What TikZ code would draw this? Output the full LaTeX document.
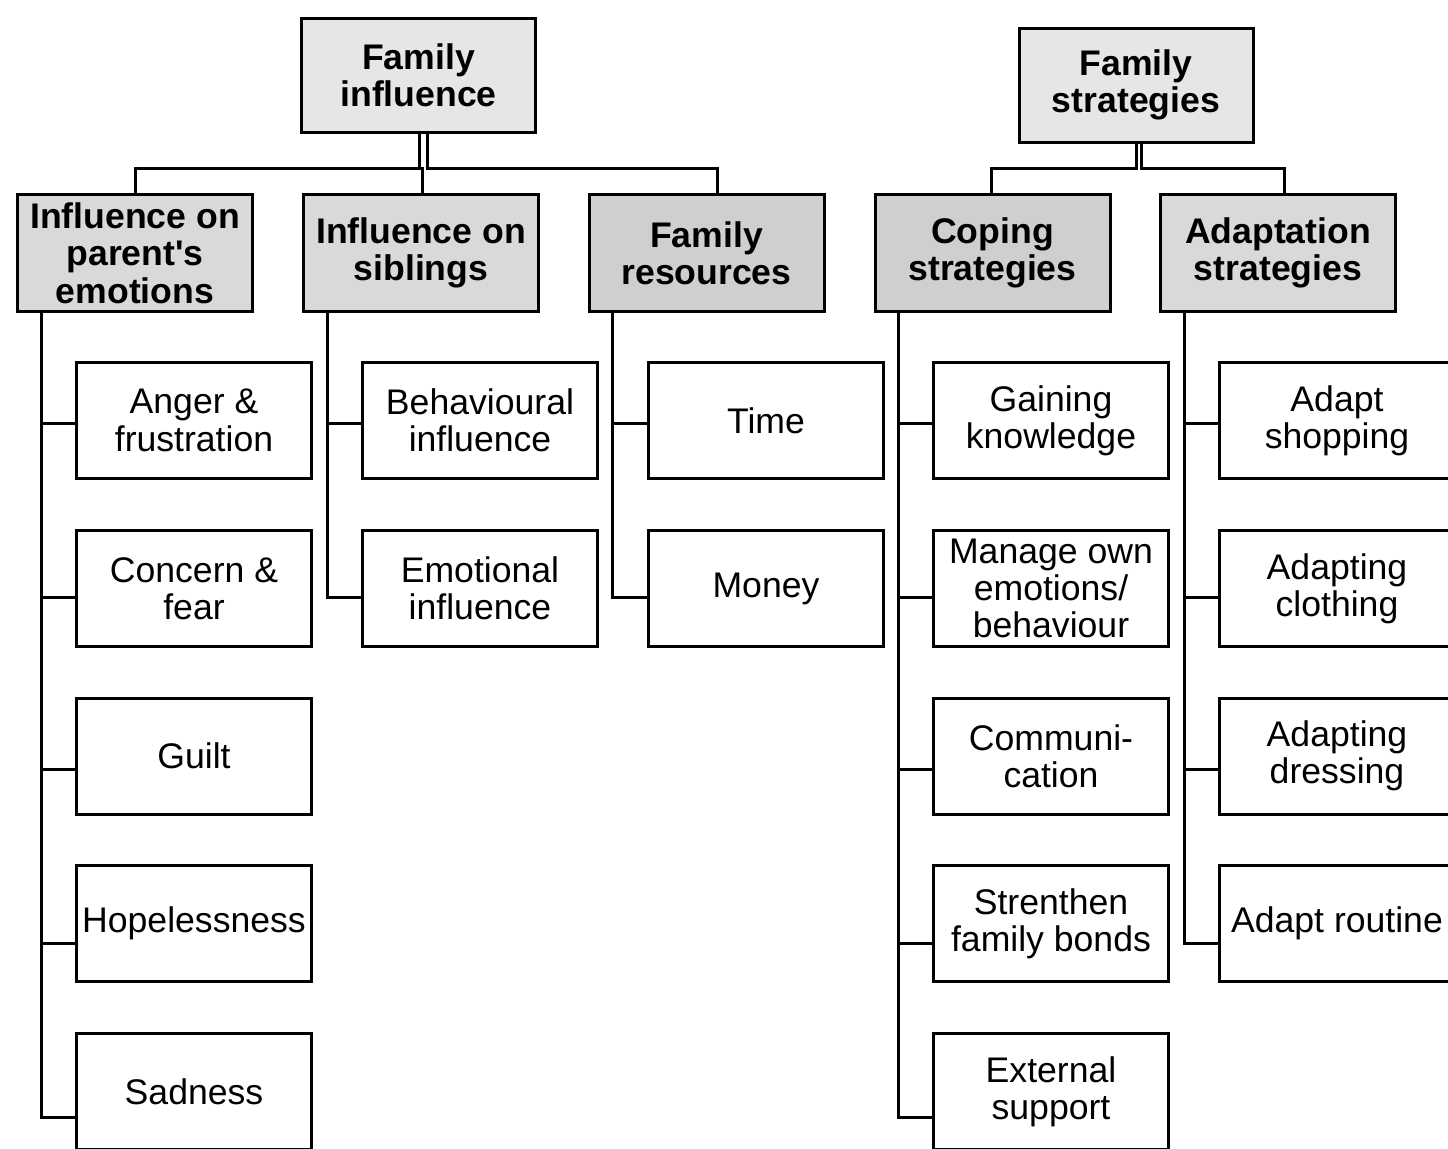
\documentclass[tikz,border=0pt]{standalone}
\usepackage{fontspec}
\setmainfont{Liberation Sans}[Ligatures=TeXOff]
\definecolor{topfill}{HTML}{E6E6E6}
\definecolor{midfill}{HTML}{D9D9D9}
\definecolor{darkfill}{HTML}{D0CECE}
\tikzset{
  basebox/.style={draw, line width=1.5pt, inner sep=0pt, align=center,
    font=\fontsize{17.8}{18.7}\selectfont},
  topbox/.style={basebox, fill=topfill, minimum width=117pt, minimum height=57pt,
    font=\fontsize{17.8}{18.7}\selectfont\bfseries},
  midbox/.style={basebox, fill=midfill, minimum width=117.5pt, minimum height=58.5pt,
    font=\fontsize{17.8}{18.7}\selectfont\bfseries},
  leafbox/.style={basebox, fill=white, minimum width=117.5pt, minimum height=58pt},
  conn/.style={draw, line width=1.5pt}
}
\begin{document}
\begin{tikzpicture}[x=0.5pt,y=-0.5pt]
\useasboundingbox (0,0) rectangle (1448,1148);
\clip (0,0) rectangle (1448,1148);
% top level
\node[topbox] (fi) at (418.5,75) {Family\\influence};
\node[topbox] (fs) at (1136,85) {Family\\strategies};
% second level
\node[midbox] (ipe) at (135,253) {Influence on\\parent's\\emotions};
\node[midbox] (is) at (421,253) {Influence on\\siblings};
\node[midbox, fill=darkfill] (fr) at (706.5,253) {Family\\resources};
\node[midbox, fill=darkfill] (cs) at (992.5,253) {Coping\\strategies};
\node[midbox] (as) at (1278,253) {Adaptation\\strategies};
% leaves column 1
\node[leafbox] (a1) at (194,420.5) {Anger \&\\frustration};
\node[leafbox] (a2) at (194,588.5) {Concern \&\\fear};
\node[leafbox] (a3) at (194,756) {Guilt};
\node[leafbox] (a4) at (194,923.5) {Hopelessness};
\node[leafbox] (a5) at (194,1091.5) {Sadness};
% column 2
\node[leafbox] (b1) at (480,420.5) {Behavioural\\influence};
\node[leafbox] (b2) at (480,588.5) {Emotional\\influence};
% column 3
\node[leafbox] (c1) at (766,420.5) {Time};
\node[leafbox] (c2) at (766,588.5) {Money};
% column 4
\node[leafbox] (d1) at (1051,420.5) {Gaining\\knowledge};
\node[leafbox] (d2) at (1051,588.5) {Manage own\\emotions/\\behaviour};
\node[leafbox] (d3) at (1051,756) {Communi-\\cation};
\node[leafbox] (d4) at (1051,923.5) {Strenthen\\family bonds};
\node[leafbox] (d5) at (1051,1091.5) {External\\support};
% column 5
\node[leafbox] (e1) at (1337,420.5) {Adapt\\shopping};
\node[leafbox] (e2) at (1337,588.5) {Adapting\\clothing};
\node[leafbox] (e3) at (1337,756) {Adapting\\dressing};
\node[leafbox] (e4) at (1337,923.5) {Adapt routine};
% top connectors
\draw[conn] ([xshift=0.25pt]fi.south) -- ++(0,35) -| (ipe.north);
\draw[conn] ([xshift=0.25pt]fi.south) -- ++(0,35) -| ([xshift=0.5pt]is.north);
\draw[conn] ([xshift=4.25pt]fi.south) -- ++(0,35) -| ([xshift=5.25pt]fr.north);
\draw[conn] (fs.south) -- ++(0,25) -| ([xshift=-0.75pt]cs.north);
\draw[conn] ([xshift=2.5pt]fs.south) -- ++(0,25) -| ([xshift=3pt]as.north);
% leaf connectors
\foreach \p/\l/\o in {ipe/a1/1.25, ipe/a2/4.25, ipe/a3/6.75, ipe/a4/9.75, ipe/a5/12.75,
                      is/b1/1.25, is/b2/4.25,
                      fr/c1/1.25, fr/c2/4.25,
                      cs/d1/1.25, cs/d2/4.25, cs/d3/6.75, cs/d4/9.75, cs/d5/12.75,
                      as/e1/1.25, as/e2/4.25, as/e3/6.75, as/e4/9.75}
  \draw[conn] ([xshift=12.5pt]\p.south west) |- ([yshift=-\o pt]\l.west);
\end{tikzpicture}
\end{document}
